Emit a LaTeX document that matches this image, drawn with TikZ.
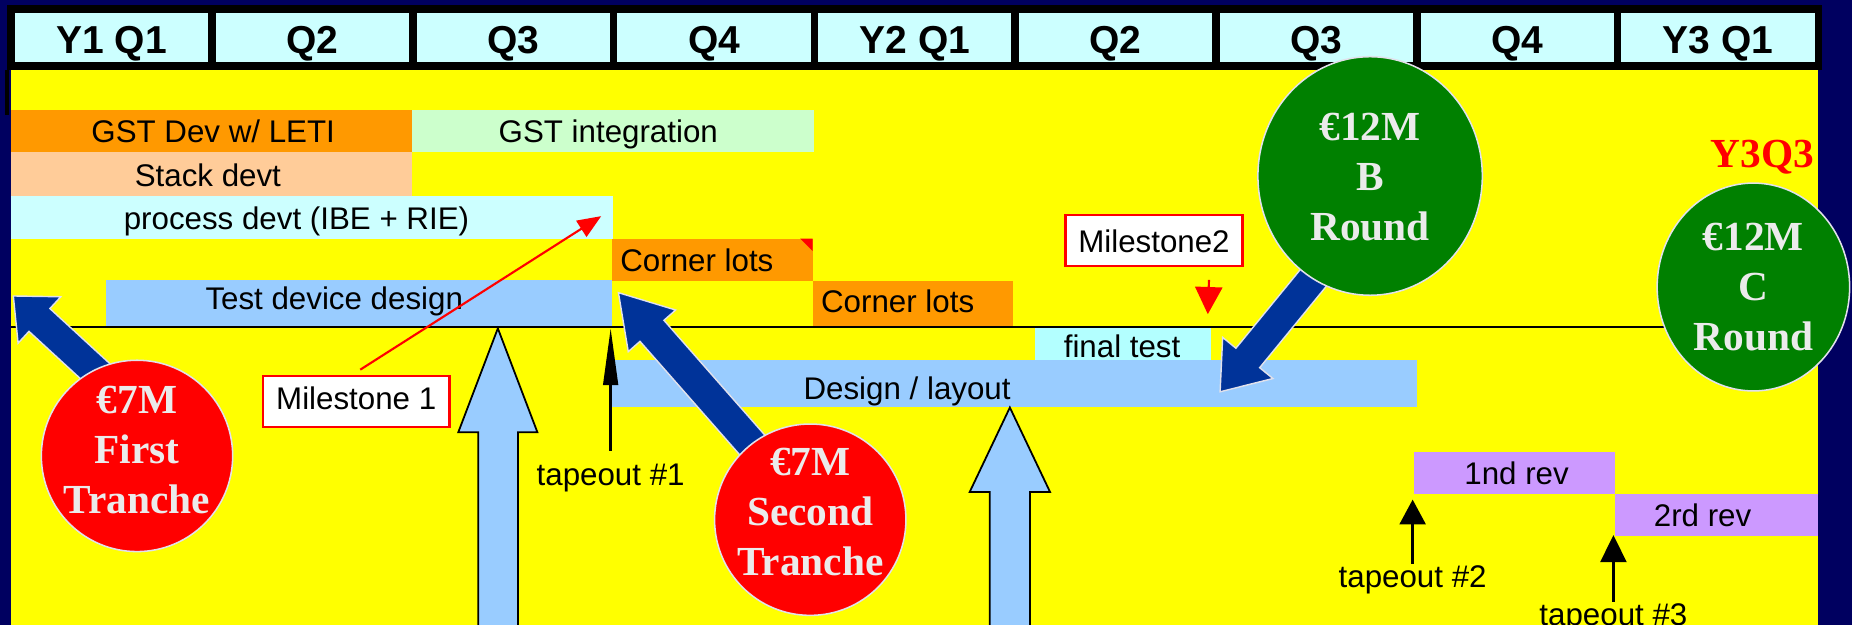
\documentclass[tikz,border=0pt]{standalone}
\usepackage{fontspec}
\setmainfont{Liberation Sans}
\newfontfamily\serifbf{Liberation Serif}
\usetikzlibrary{calc,arrows.meta,shapes.geometric}
\definecolor{navybg}{RGB}{0,0,96}
\definecolor{ylw}{RGB}{255,255,0}
\definecolor{hdrcyan}{RGB}{204,255,255}
\definecolor{orng}{RGB}{255,153,0}
\definecolor{ltgreen}{RGB}{204,255,204}
\definecolor{peach}{RGB}{255,204,153}
\definecolor{ltcyan}{RGB}{204,255,255}
\definecolor{testcyan}{RGB}{179,255,255}
\definecolor{ltblue}{RGB}{153,204,255}
\definecolor{lilac}{RGB}{204,153,255}
\definecolor{fundred}{RGB}{255,0,0}
\definecolor{fundgreen}{RGB}{0,128,0}
\definecolor{arrowblue}{RGB}{0,51,153}
\definecolor{fundwhite}{RGB}{235,235,235}
\definecolor{rimgray}{RGB}{225,225,235}
\newcommand\fundarrow[5]{%
  \coordinate (fa-m) at ($(#1)!#3!(#2)$);
  \draw[fundshaft] (#1) -- ($(fa-m)!#4!90:(#2)$) -- ($(fa-m)!#5!90:(#2)$)
    -- ($(#2)!#5!-90:(fa-m)$) -- ($(#2)!#5!90:(fa-m)$)
    -- ($(fa-m)!#5!-90:(#2)$) -- ($(fa-m)!#4!-90:(#2)$) -- cycle;}
\begin{document}
\begin{tikzpicture}[x=1pt,y=-1pt,
  hdr/.style={rectangle, draw=black, line width=6.5pt, fill=hdrcyan,
    minimum width=170pt, minimum height=48.5pt, inner sep=0pt,
    font=\bfseries\fontsize{33}{36}\selectfont, text height=27.5pt, text depth=0pt},
  bar/.style={rectangle, inner sep=0pt, outer sep=0pt, anchor=north west, draw=none},
  bartext/.style={font=\fontsize{26.5}{30}\selectfont, inner sep=0pt, anchor=base},
  msbox/.style={rectangle, draw=fundred, line width=2pt, fill=white, inner sep=0pt,
    font=\fontsize{26.5}{30}\selectfont},
  redarrow/.style={draw=fundred, line width=1.8pt},
  tapearrow/.style={line width=2.2pt, -{Triangle[length=22pt,width=22pt]}},
  bigup/.style={fill=ltblue, draw=black, line width=1.5pt},
  fundshaft/.style={fill=arrowblue, draw=rimgray, line width=1.2pt},
  fund/.style={ellipse, draw=rimgray, line width=1.3pt, inner sep=0pt},
  fundtext/.style={text=fundwhite, font=\serifbf\bfseries\fontsize{35}{42.5}\selectfont,
    align=center, inner sep=0pt}]
\clip (0,0) rectangle (1568,529);
\fill[navybg] (0,0) rectangle (1568,529);
\fill[ylw] (9,56) rectangle (1539.5,529);
% header
\foreach \i/\lab in {0/Y1 Q1,1/Q2,2/Q3,3/Q4,4/Y2 Q1,5/Q2,6/Q3,7/Q4,8/Y3 Q1}
  \node[hdr] (h\i) at ({94.5+170*\i},31.75) {\lab};
\draw[line width=3.5pt] (h0.south west) -- ++(0,38);
% bars
\node[bar, fill=orng, minimum width=340pt, minimum height=35.5pt] (gstdev) at (9,93.5) {};
\node[bar, fill=ltgreen, minimum width=340pt, minimum height=35.5pt] (gstint) at (349,93.5) {};
\node[bar, fill=peach, minimum width=340pt, minimum height=37pt] (stack) at (9,129) {};
\node[bar, fill=ltcyan, minimum width=510pt, minimum height=36pt] (proc) at (9,166) {};
\node[bar, fill=orng, minimum width=170pt, minimum height=36pt] (corner1) at (518,202) {};
\node[bar, fill=ltblue, minimum width=428pt, minimum height=40pt] (testdev) at (90,237) {};
\node[bar, fill=orng, minimum width=170pt, minimum height=39pt] (corner2) at (688,238) {};
\node[bar, fill=testcyan, minimum width=149pt, minimum height=28pt] (final) at (876,277) {};
\node[bar, fill=ltblue, minimum width=682pt, minimum height=40pt] (design) at (518,305) {};
\node[bar, fill=lilac, minimum width=170pt, minimum height=35pt] (rev1) at (1197,383) {};
\node[bar, fill=lilac, minimum width=172pt, minimum height=36pt] (rev2) at (1367,418) {};
\fill[fundred] (corner1.north east) -- ++(-10.5,0) -- ++(10.5,10.5) -- cycle;
% bar texts
\node[bartext] (tgstdev) at (180.5,121) {GST Dev w/ LETI};
\node[bartext] (tgstint) at (515,121) {GST integration};
\node[bartext] (tstack) at (176,157.5) {Stack devt};
\node[bartext] (tproc) at (251,194) {process devt (IBE + RIE)};
\node[bartext, anchor=base west] (tcorner1) at (525,230) {Corner lots};
\node[bartext] (ttestdev) at (283,262) {Test device design};
\node[bartext, anchor=base west] (tcorner2) at (695,265) {Corner lots};
\node[bartext] (tfinal) at (950,303) {final test};
\node[bartext] (tdesign) at (768,338) {Design / layout};
\node[bartext] (trev1) at (1284,410) {1nd rev};
\node[bartext] (trev2) at (1441.5,446) {2rd rev};
% horizontal line
\draw[line width=1.2pt] (9,277) -- (1539.5,277);
% big up arrows
\coordinate (up1tip) at (421.5,278);
\coordinate (up2tip) at (855,345);
\draw[bigup] (up1tip) -- (455,366) -- (438.6,366) -- (438.6,545) -- (405,545) -- (405,366) -- (388,366) -- cycle;
\draw[bigup] (up2tip) -- (889,416.5) -- (872,416.5) -- (872,545) -- (838,545) -- (838,416.5) -- (821,416.5) -- cycle;
% tapeout arrows
\node[bartext] (tape1) at (517,411) {tapeout \#1};
\node[bartext] (tape2) at (1196,497) {tapeout \#2};
\node[bartext] (tape3) at (1366,530) {tapeout \#3};
\coordinate (tape1tip) at (517,278);
\coordinate (tape2tip) at (1196,423);
\coordinate (tape3tip) at (1366,453);
\draw[line width=2.2pt, -{Triangle[length=48pt,width=12.4pt]}] ([yshift=11pt]tape1.north) -- (tape1tip);
\draw[tapearrow, -{Triangle[length=21pt,width=22pt]}] ([yshift=1pt]tape2.north) -- (tape2tip);
\draw[tapearrow, -{Triangle[length=23pt,width=22pt]}] ([yshift=2pt]tape3.north) -- (tape3tip);
% milestones
\node[msbox, minimum width=158pt, minimum height=43pt, text height=19pt, text depth=6pt] (ms1) at (301.6,340) {Milestone 1};
\node[msbox, minimum width=150pt, minimum height=43pt, text height=21pt, text depth=0pt] (ms2) at (977,203.5) {Milestone2};
\coordinate (ms1tip) at (509,183);
\coordinate (ms2tip) at (1022.6,266);
\draw[redarrow, -{Triangle[length=20pt,width=16pt]}] ([shift={(3.4,-4.5)}]ms1.north) -- (ms1tip);
\draw[redarrow, -{Triangle[length=23pt,width=23pt]}] ([shift={(-29.4,11)}]ms2.south east) -- (ms2tip);
% funding arrows
\coordinate (faTip) at (11.3,250.6);
\coordinate (faTail) at (114,345);
\coordinate (fbTip) at (523.6,247.8);
\coordinate (fbTail) at (655.6,398);
\coordinate (fcTip) at (1033,331.7);
\coordinate (fcTail) at (1140.8,200);
\fundarrow{faTip}{faTail}{30pt}{26.7pt}{13.1pt}
\fundarrow{fbTip}{fbTail}{43pt}{26.7pt}{13.5pt}
\fundarrow{fcTip}{fcTail}{37pt}{27.5pt}{13pt}
% funding circles
\node[fund, fill=fundred, minimum width=162pt, minimum height=162pt] (ftc) at (116,386) {};
\node[fund, fill=fundred, minimum width=162pt, minimum height=162pt] (stc) at (686,440) {};
\node[fund, fill=fundgreen, minimum width=190pt, minimum height=202pt] (brc) at (1160,149) {};
\node[fund, fill=fundgreen, minimum width=163pt, minimum height=176pt] (crc) at (1484.5,243) {};
\node[fundtext] (ftt) at (116,381) {€7M\\First\\Tranche};
\node[fundtext] (stt) at (686,433.6) {€7M\\Second\\Tranche};
\node[fundtext] (brt) at (1160,150) {€12M\\B\\Round};
\node[fundtext] (crt) at (1484.5,243) {€12M\\C\\Round};
\node[text=fundred, font=\serifbf\bfseries\fontsize{35}{42}\selectfont, inner sep=0pt] (y3q3) at (1492,133) {Y3Q3};
\end{tikzpicture}
\end{document}
